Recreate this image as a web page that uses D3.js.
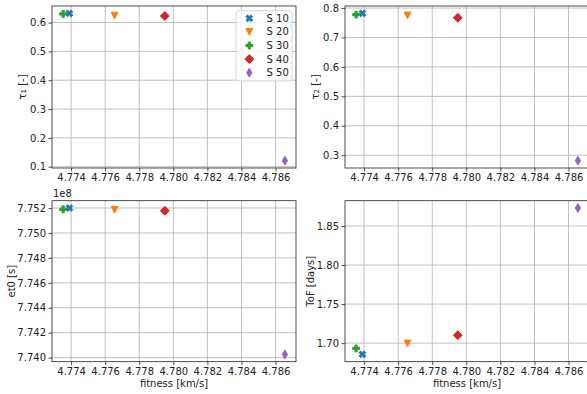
<!DOCTYPE html>
<html><head><meta charset="utf-8">
<script src="https://cdn.jsdelivr.net/npm/d3@7"></script>
<style>body{margin:0;background:#fff}svg{display:block;font-family:"DejaVu Sans",sans-serif}</style>
</head><body><svg id="c" width="587" height="394"></svg>
<script>
const series = ["S 10","S 20","S 30","S 40","S 50"];
const colors = ["#1f77b4","#ff7f0e","#2ca02c","#d62728","#9467bd"];
const symbols = ["X","v","P","D","d"];
const fitness = [4.7739,4.77655,4.77353,4.7795,4.78655];
const tau1 = [0.632,0.624,0.630,0.623,0.121];
const tau2 = [0.782,0.775,0.7775,0.767,0.2816];
const et0 = [775200000,775186000,775190000,775178000,774026000];
const tof = [1.6856,1.6996,1.6932,1.7102,1.873];
const xTicks = [4.774,4.776,4.778,4.780,4.782,4.784,4.786];
const tau1Ticks = [0.1,0.2,0.3,0.4,0.5,0.6];
const tau2Ticks = [0.3,0.4,0.5,0.6,0.7,0.8];
const et0Ticks = [774000000,774200000,774400000,774600000,774800000,775000000,775200000];
const tofTicks = [1.70,1.75,1.80,1.85];

const svg = d3.select("#c");
const FS = 10;
const MS = {X:7.2, v:6.8, P:6.8, D:6.3, d:6.3};

function markerPath(sym, m) {
  let pts;
  if (sym === "X" || sym === "P") {
    const base = [[-1,-3],[1,-3],[1,-1],[3,-1],[3,1],[1,1],[1,3],[-1,3],[-1,1],[-3,1],[-3,-1],[-1,-1]].map(p => [p[0]/6*m, p[1]/6*m]);
    if (sym === "X") {
      const c = Math.SQRT1_2;
      pts = base.map(p => [c*(p[0]-p[1]), c*(p[0]+p[1])]);
    } else pts = base;
  } else if (sym === "v") {
    pts = [[0,0.5*m],[-0.5*m,-0.5*m],[0.5*m,-0.5*m]];
  } else if (sym === "D") {
    const r = Math.SQRT1_2*m;
    pts = [[0,-r],[r,0],[0,r],[-r,0]];
  } else {
    const r = Math.SQRT1_2*m;
    pts = [[0,-r],[0.6*r,0],[0,r],[-0.6*r,0]];
  }
  return "M" + pts.map(p => p[0].toFixed(2)+","+p[1].toFixed(2)).join("L") + "Z";
}

function pad(ext) {
  const d = ext[1]-ext[0];
  return [ext[0]-0.05*d, ext[1]+0.05*d];
}

function panel(opts) {
  const {x0,x1,y0,y1,yVals,yTicks,yFmt,yLabel,yLabelX,xLabel,offset} = opts;
  const g = svg.append("g");
  const x = d3.scaleLinear().domain(pad(d3.extent(fitness))).range([x0,x1]);
  const y = d3.scaleLinear().domain(pad(d3.extent(yVals))).range([y1,y0]);
  g.append("g").selectAll("line").data(xTicks).join("line")
    .attr("x1", d=>x(d)).attr("x2", d=>x(d)).attr("y1", y0).attr("y2", y1)
    .attr("stroke","#b0b0b0").attr("stroke-width",0.8);
  g.append("g").selectAll("line").data(yTicks).join("line")
    .attr("x1", x0).attr("x2", x1).attr("y1", d=>y(d)).attr("y2", d=>y(d))
    .attr("stroke","#b0b0b0").attr("stroke-width",0.8);
  const ax = g.append("g").attr("transform",`translate(0,${y1})`)
    .call(d3.axisBottom(x).tickValues(xTicks).tickFormat(d3.format(".3f")).tickSize(3.5).tickPadding(2.5));
  const ay = g.append("g").attr("transform",`translate(${x0},0)`)
    .call(d3.axisLeft(y).tickValues(yTicks).tickFormat(yFmt).tickSize(3.5).tickPadding(2.5));
  [ax,ay].forEach(a => {
    a.select(".domain").remove();
    a.selectAll("line").attr("stroke","#222").attr("stroke-width",0.8);
    a.selectAll("text").attr("fill","#222").attr("font-size",FS).attr("font-family","DejaVu Sans");
  });
  g.append("rect").attr("x",x0).attr("y",y0).attr("width",x1-x0).attr("height",y1-y0)
    .attr("fill","none").attr("stroke","#222").attr("stroke-width",0.8);
  const clipId = "clip"+Math.round(x0)+"_"+Math.round(y0);
  g.append("clipPath").attr("id",clipId).append("rect").attr("x",x0).attr("y",y0).attr("width",x1-x0).attr("height",y1-y0);
  const mg = g.append("g").attr("clip-path",`url(#${clipId})`);
  series.forEach((s,i) => {
    mg.append("path").attr("d", markerPath(symbols[i], MS[symbols[i]]))
      .attr("transform",`translate(${x(fitness[i])},${y(yVals[i])})`)
      .attr("fill",colors[i]).attr("stroke",colors[i]).attr("stroke-width",1).attr("stroke-linejoin","round");
  });
  const yl = g.append("text").attr("transform",`translate(${yLabelX},${(y0+y1)/2}) rotate(-90)`)
    .attr("text-anchor","middle").attr("dominant-baseline","central")
    .attr("font-size",FS).attr("fill","#222");
  yLabel(yl);
  if (xLabel) {
    g.append("text").attr("x",(x0+x1)/2).attr("y",y1+25.5).attr("text-anchor","middle")
      .attr("font-size",FS).attr("fill","#222").text(xLabel);
  }
  if (offset) {
    g.append("text").attr("x",x0+1).attr("y",y0-3.5).attr("font-size",FS).attr("fill","#222").text(offset);
  }
  return {x,y};
}

function tauLabel(n) {
  return t => {
    t.append("tspan").text("τ");
    t.append("tspan").attr("font-size",7).attr("dy",2).text(n);
    t.append("tspan").attr("dy",-2).text(" [-]");
  };
}

const f1 = d3.format(".1f"), f2 = d3.format(".2f");
panel({x0:52,x1:296,y0:6,y1:168,yVals:tau1,yTicks:tau1Ticks,yFmt:f1,yLabel:tauLabel("1"),yLabelX:21.5});
panel({x0:345,x1:589,y0:6,y1:168,yVals:tau2,yTicks:tau2Ticks,yFmt:f1,yLabel:tauLabel("2"),yLabelX:315});
panel({x0:52,x1:296,y0:200.7,y1:361.7,yVals:et0,yTicks:et0Ticks,yFmt:d=>(d/1e8).toFixed(3),
  yLabel:t=>t.text("et0 [s]"),yLabelX:11.7,xLabel:"fitness [km/s]",offset:"1e8"});
panel({x0:345,x1:589,y0:200.7,y1:361.7,yVals:tof,yTicks:tofTicks,yFmt:f2,
  yLabel:t=>t.text("ToF [days]"),yLabelX:310.7,xLabel:"fitness [km/s]"});

const lg = svg.append("g");
lg.append("rect").attr("x",236).attr("y",10.7).attr("width",56).attr("height",70.3).attr("rx",2.5)
  .attr("fill","#fff").attr("fill-opacity",0.8).attr("stroke","#cccccc").attr("stroke-width",0.8);
series.forEach((s,i) => {
  const yy = 18.3 + i*13.6;
  lg.append("path").attr("d",markerPath(symbols[i],MS[symbols[i]])).attr("transform",`translate(249.3,${yy})`)
    .attr("fill",colors[i]).attr("stroke",colors[i]).attr("stroke-width",1).attr("stroke-linejoin","round");
  lg.append("text").attr("x",266.5).attr("y",yy).attr("dominant-baseline","central")
    .attr("font-size",FS).attr("fill","#222").text(s);
});
</script></body></html>
